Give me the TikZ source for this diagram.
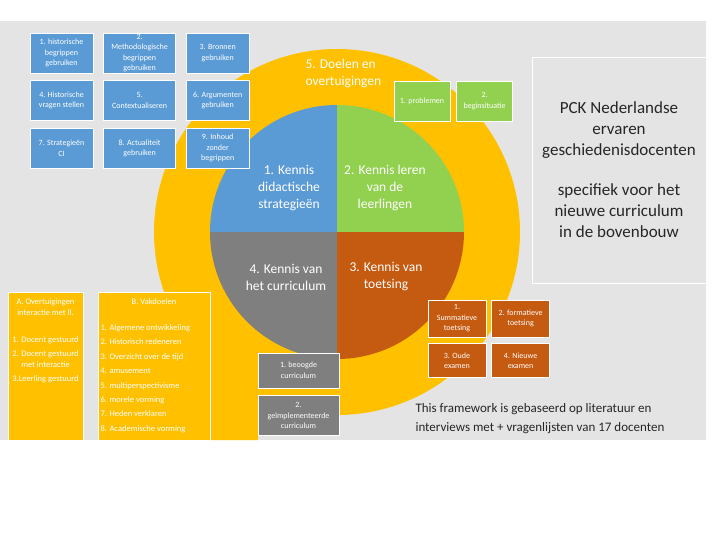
\documentclass[tikz,border=0pt]{standalone}
\usepackage{fontspec}
\setmainfont{Carlito}
\usetikzlibrary{positioning}

\definecolor{bggrey}{HTML}{E4E4E4}
\definecolor{ringyellow}{HTML}{FFC000}
\definecolor{kblue}{HTML}{5B9BD5}
\definecolor{kgreen}{HTML}{92D050}
\definecolor{korange}{HTML}{C55A11}
\definecolor{kgrey}{HTML}{7F7F7F}

\tikzset{
  box/.style={draw=white, line width=0.6pt, inner sep=1pt, align=center,
    text=white, font=\fontsize{8}{10.5}\selectfont},
  bluebox/.style={box, fill=kblue, minimum height=40pt},
  greenbox/.style={box, fill=kgreen, minimum width=56pt, minimum height=40pt},
  orangebox/.style={box, fill=korange, minimum width=58pt},
  greybox/.style={box, fill=kgrey, minimum width=81pt},
  quadlabel/.style={align=center, text=white, font=\fontsize{13.5}{17}\selectfont},
}

\begin{document}
\begin{tikzpicture}[x=1pt, y=-1pt]
  \useasboundingbox (0,0) rectangle (720,540);
  \fill[white] (0,0) rectangle (720,540);
  \fill[bggrey] (0,21) rectangle (706,440);

  % ring and quarters
  \coordinate (c) at (337,232);
  \fill[ringyellow] (c) circle (183pt);
  \fill[ringyellow] (205,320) -- (205,440) -- (258,440) -- (258,395) -- cycle;
  \begin{scope}
    \clip (c) circle (127pt);
    \fill[kblue] (c) rectangle ++(-130,-130);
    \fill[kgreen] (c) rectangle ++(130,-130);
    \fill[korange] (c) rectangle ++(130,130);
    \fill[kgrey] (c) rectangle ++(-130,130);
  \end{scope}

  \node[quadlabel] (q1) at (289,188) {1. Kennis\\didactische\\strategieën};
  \node[quadlabel] (q2) at (385,188) {2. Kennis leren\\van de\\leerlingen};
  \node[quadlabel] (q3) at (386,277) {3. Kennis van\\toetsing};
  \node[quadlabel] (q4) at (286,277) {4. Kennis van\\het curriculum};
  \node[quadlabel, align=left, anchor=west] (q5) at (302,73) {5. Doelen en\\overtuigingen};

  % blue boxes
  \node[bluebox, minimum width=63pt] (b1) at (61.5,53) {1. historische\\begrippen\\gebruiken};
  \node[bluebox, minimum width=72pt, right=10pt of b1] (b2) {2.\\Methodologische\\begrippen\\gebruiken};
  \node[bluebox, minimum width=63pt, right=10pt of b2] (b3) {3. Bronnen\\gebruiken};
  \node[bluebox, minimum width=63pt, below=7pt of b1] (b4) {4. Historische\\vragen stellen};
  \node[bluebox, minimum width=72pt, right=10pt of b4] (b5) {5.\\Contextualiseren};
  \node[bluebox, minimum width=63pt, right=10pt of b5] (b6) {6. Argumenten\\gebruiken};
  \node[bluebox, minimum width=63pt, below=7pt of b4] (b7) {7. Strategieën\\CI};
  \node[bluebox, minimum width=72pt, right=10pt of b7] (b8) {8. Actualiteit\\gebruiken};
  \node[bluebox, minimum width=63pt, right=10pt of b8] (b9) {9. Inhoud\\zonder\\begrippen};

  % green boxes
  \node[greenbox] (g1) at (422,101) {1. problemen};
  \node[greenbox, right=6pt of g1] (g2) {2.\\beginsituatie};

  % orange boxes
  \node[orangebox, minimum height=37pt] (o1) at (457,318.5) {1.\\Summatieve\\toetsing};
  \node[orangebox, minimum height=37pt, right=5pt of o1] (o2) {2. formatieve\\toetsing};
  \node[orangebox, minimum height=34pt, below=6pt of o1] (o3) {3. Oude\\examen};
  \node[orangebox, minimum height=34pt, right=5pt of o3] (o4) {4. Nieuwe\\examen};

  % grey boxes
  \node[greybox, minimum height=35pt] (c1) at (298.5,370.5) {1. beoogde\\curriculum};
  \node[greybox, minimum height=40pt, below=7pt of c1] (c2) {2.\\geïmplementeerde\\curriculum};

  % yellow boxes
  \node[box, fill=ringyellow, minimum width=75pt, minimum height=148pt] (ya) at (45.5,366) {};
  \node[box, fill=ringyellow, minimum width=112pt, minimum height=148pt] (yb) at (154,366) {};
  \node[text=white, align=center, font=\fontsize{8.5}{11}\selectfont, below=3pt of ya.north] (yatitle)
    {A. Overtuigingen\\interactie met ll.};
  \node[text=white, align=center, font=\fontsize{8.5}{11}\selectfont, below=14pt of yatitle.south] (yalist)
    {1. Docent gestuurd\\[3pt]2. Docent gestuurd\\met interactie\\[3pt]3.Leerling gestuurd};
  \node[text=white, font=\fontsize{8.5}{11}\selectfont, below=3pt of yb.north] (ybtitle) {B. Vakdoelen};
  \node[text=white, align=left, anchor=north west, font=\fontsize{8.5}{14.4}\selectfont] (yblist) at (97,321)
    {1. Algemene ontwikkeling\\2. Historisch redeneren\\3. Overzicht over de tijd\\4. amusement\\5. multiperspectivisme\\6. morele vorming\\7. Heden verklaren\\8. Academische vorming};

  % right panel
  \node[draw=white, line width=0.6pt, fill=bggrey, minimum width=174pt, minimum height=226pt] (panel) at (619,170) {};
  \node[align=center, text=black!85, font=\fontsize{17}{21}\selectfont] (pck) at (619,130)
    {PCK Nederlandse\\ervaren\\geschiedenisdocenten};
  \node[align=center, text=black!85, font=\fontsize{17}{21}\selectfont, below=18pt of pck] (spec)
    {specifiek voor het\\nieuwe curriculum\\in de bovenbouw};

  % note
  \node[align=left, anchor=west, text=black!85, font=\fontsize{13}{19}\selectfont] (note) at (412,419)
    {This framework is gebaseerd op literatuur en\\interviews met + vragenlijsten van 17 docenten};
\end{tikzpicture}
\end{document}
